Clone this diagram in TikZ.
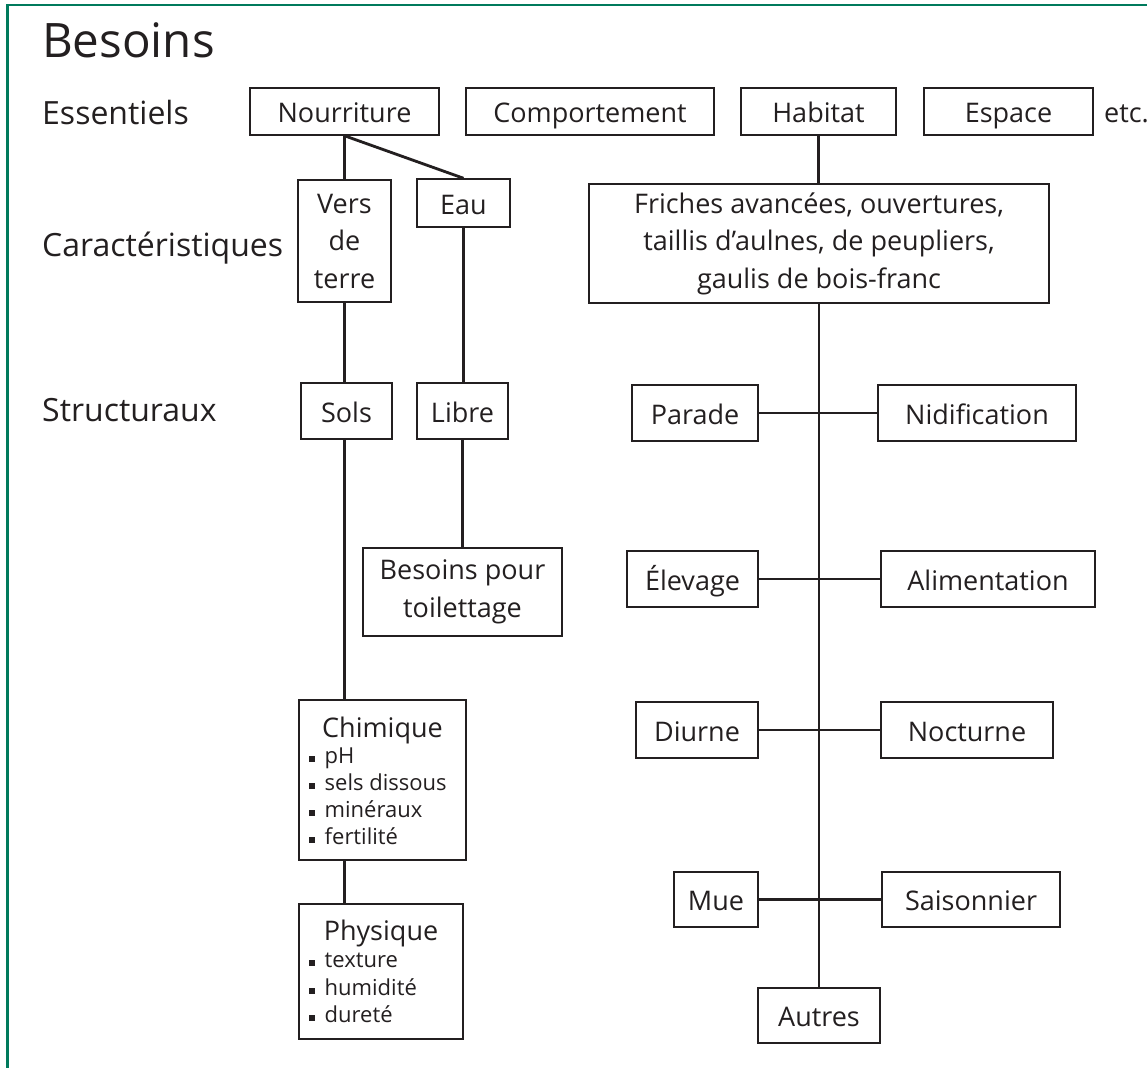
\documentclass[tikz,border=0pt]{standalone}
\usepackage{fontspec}
\setmainfont{Open Sans}
\definecolor{framegreen}{RGB}{0,122,92}
\definecolor{ink}{RGB}{35,31,32}
\newcommand{\bul}{\raisebox{1.5pt}{\rule{5.5pt}{5.5pt}}\hspace{10pt}}
\begin{document}
\begin{tikzpicture}[x=1pt,y=-1pt,
  mbx/.style={draw=ink,line width=1.5pt,inner sep=0pt,text=ink,align=center,
    font=\fontsize{27}{37.5}\selectfont},
  bx/.style={mbx,text height=22.5pt,text depth=0pt},
  conn/.style={draw=ink,line width=2.8pt},
  lbl/.style={inner sep=0pt,text=ink,anchor=base west,font=\fontsize{32}{37}\selectfont},
  item/.style={inner sep=0pt,text=ink,anchor=base west,font=\fontsize{22}{26}\selectfont},
  ttl/.style={inner sep=0pt,text=ink,anchor=base,font=\fontsize{27}{30}\selectfont}]
\useasboundingbox (0,0) rectangle (1147,1067);
\draw[framegreen,line width=2.5pt] (7.5,1070) -- (7.5,5) -- (1150,5);

% labels
\node[lbl,font=\fontsize{47.5}{52}\selectfont] (title) at (42,58) {Besoins};
\node[lbl] (ess) at (42,125) {Essentiels};
\node[lbl] (car) at (42,256) {Caractéristiques};
\node[lbl] (str) at (42,421) {Structuraux};

% top row
\node[bx,minimum width=189pt,minimum height=47pt] (nour) at (344.5,111.5) {Nourriture};
\node[bx,minimum width=248pt,minimum height=47pt] (comp) at (590,111.5) {Comportement};
\node[bx,minimum width=155pt,minimum height=47pt] (hab) at (818.5,111.5) {Habitat};
\node[bx,minimum width=169pt,minimum height=47pt] (esp) at (1008.5,111.5) {Espace};
\node[inner sep=0pt,text=ink,anchor=base west,font=\fontsize{27}{30}\selectfont] (etc) at (1104,123) {etc.};

% second row
\node[mbx,minimum width=93pt,minimum height=122pt] (vers) at (344.5,241) {Vers\\de\\terre};
\node[bx,minimum width=93pt,minimum height=48pt] (eau) at (463.5,203) {Eau};
\node[mbx,minimum width=460pt,minimum height=119pt] (fri) at (819,243.5)
  {Friches avancées, ouvertures,\\taillis d’aulnes, de peupliers,\\gaulis de bois-franc};

% third row
\node[bx,minimum width=91pt,minimum height=56pt] (sols) at (346.5,411) {Sols};
\node[bx,minimum width=91pt,minimum height=56pt] (libre) at (462.5,411) {Libre};
\node[mbx,minimum width=199pt,minimum height=88pt] (toil) at (462.5,592) {Besoins pour\\toilettage};

% right side pairs
\node[bx,minimum width=126pt,minimum height=56pt] (par) at (695,413) {Parade};
\node[bx,minimum width=198pt,minimum height=56pt] (nid) at (977,413) {Nidification};
\node[bx,minimum width=131pt,minimum height=56pt] (elev) at (692.5,579) {Élevage};
\node[bx,minimum width=214pt,minimum height=56pt] (alim) at (988,579) {Alimentation};
\node[bx,minimum width=122pt,minimum height=56pt] (diur) at (697,730) {Diurne};
\node[bx,minimum width=172pt,minimum height=56pt] (noct) at (967,730) {Nocturne};
\node[bx,minimum width=84pt,minimum height=55pt] (mue) at (716,899.5) {Mue};
\node[bx,minimum width=178pt,minimum height=55pt] (sais) at (971,899.5) {Saisonnier};
\node[bx,minimum width=122pt,minimum height=55pt] (autr) at (819,1015.5) {Autres};

% Chimique / Physique boxes
\node[mbx,minimum width=167pt,minimum height=160pt] (chim) at (382.5,780) {};
\node[ttl] (chimt) at (382.5,737) {Chimique};
\node[item] (c1) at (309,763) {\bul pH};
\node[item] (c2) at (309,790) {\bul sels dissous};
\node[item] (c3) at (309,817) {\bul minéraux};
\node[item] (c4) at (309,844) {\bul fertilité};

\node[mbx,minimum width=164pt,minimum height=135pt] (phys) at (381,971.5) {};
\node[ttl] (physt) at (381,940) {Physique};
\node[item] (p1) at (309,967) {\bul texture};
\node[item] (p2) at (309,995) {\bul humidité};
\node[item] (p3) at (309,1022) {\bul dureté};

% connectors
\coordinate (nb) at (vers.north |- nour.south);
\draw[conn] (nb) -- (vers.north);
\draw[conn] (nb) -- (eau.north);
\draw[conn] (hab.south) -- (hab.south |- fri.north);
\draw[conn] (vers.south) -- (vers.south |- sols.north);
\draw[conn] (eau.south) -- (eau.south |- libre.north);
\draw[conn] (libre.south) -- (toil.north);
\draw[conn] (vers.south |- sols.south) -- (vers.south |- chim.north);
\draw[conn] (vers.south |- chim.south) -- (vers.south |- phys.north);
\draw[conn] (fri.south) -- (autr.north);
\draw[conn] (par.east) -- (nid.west);
\draw[conn] (elev.east) -- (alim.west);
\draw[conn] (diur.east) -- (noct.west);
\draw[conn] (mue.east) -- (sais.west);
\end{tikzpicture}
\end{document}
